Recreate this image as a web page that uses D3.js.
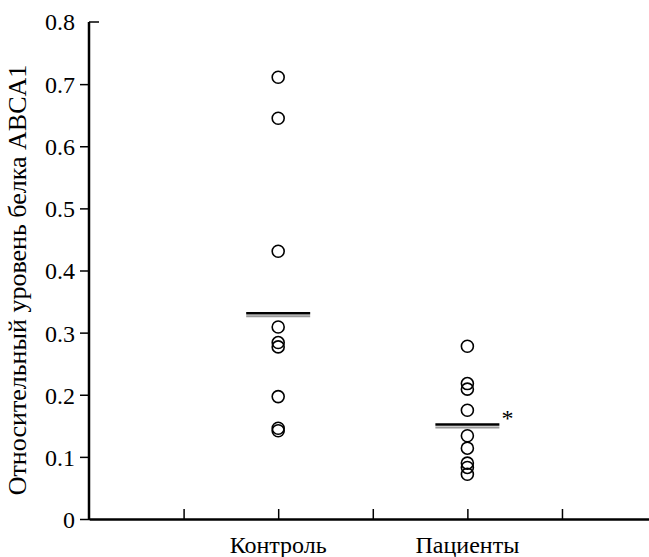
<!DOCTYPE html>
<html><head><meta charset="utf-8">
<script src="https://cdn.jsdelivr.net/npm/d3@7"></script>
<style>body{margin:0;background:#fff}svg{display:block}
.serif{font-family:"Liberation Serif","Times New Roman","DejaVu Serif",serif}</style>
</head><body>
<svg id="c" width="649" height="557"></svg>
<script>
const categories = ["Контроль", "Пациенты"];
const controlValues = [0.711, 0.645, 0.431, 0.309, 0.284, 0.277, 0.197, 0.146, 0.142];
const patientValues = [0.278, 0.218, 0.209, 0.175, 0.134, 0.114, 0.090, 0.083, 0.072];
const groupMeans = [0.331, 0.152];
const yTicks = [0, 0.1, 0.2, 0.3, 0.4, 0.5, 0.6, 0.7, 0.8];
const yTitle = "Относительный уровень белка ABCA1";
const significance = ["", "*"];

const svg = d3.select("#c");
const x = d3.scaleLinear().domain([0, 5.92]).range([89, 649]);
const y = d3.scaleLinear().domain([0, 0.8]).range([519, 22]);
const catPos = [2, 4];
const groups = [controlValues, patientValues];

// y axis
const yAxis = d3.axisLeft(y).tickValues(yTicks.slice(0, -1)).tickSize(9).tickPadding(5)
  .tickFormat(d => d === 0 ? "0" : d3.format(".1f")(d));
const gy = svg.append("g").attr("transform", `translate(${x(0)},0)`).call(yAxis);
gy.attr("font-family", null).attr("font-size", null);
gy.select(".domain").remove();
gy.selectAll(".tick line").attr("stroke", "#000").attr("stroke-width", 1.5);
gy.selectAll(".tick text").attr("class", "serif").style("font-size", "24px").attr("dy", "0.35em").attr("x", -14);
// top label (0.8) with inward tick
svg.append("line").attr("x1", x(0)).attr("x2", x(0) + 10).attr("y1", y(0.8)).attr("y2", y(0.8))
  .attr("stroke", "#000").attr("stroke-width", 1.5);
svg.append("text").attr("class", "serif").attr("x", x(0) - 14).attr("y", y(0.8)).attr("dy", "0.35em")
  .attr("text-anchor", "end").style("font-size", "24px")
  .text(d3.format(".1f")(yTicks[yTicks.length - 1]));
svg.append("line").attr("x1", x(0)).attr("x2", x(0)).attr("y1", y(0.8)).attr("y2", y(0) + 1)
  .attr("stroke", "#000").attr("stroke-width", 2.5);

// x axis
const xAxis = d3.axisBottom(x).tickValues([1, 2, 3, 4, 5]).tickSizeInner(-10).tickSizeOuter(0).tickFormat("");
const gx = svg.append("g").attr("transform", `translate(0,${y(0)})`).call(xAxis);
gx.select(".domain").attr("stroke", "#000").attr("stroke-width", 2.5);
gx.selectAll(".tick line").attr("stroke", "#000").attr("stroke-width", 1.5);

// category labels
svg.selectAll(".cat").data(categories).enter().append("text").attr("class", "serif")
  .attr("x", (d, i) => x(catPos[i])).attr("y", 553).attr("text-anchor", "middle")
  .style("font-size", "24px").text(d => d);

// y title
svg.append("text").attr("class", "serif").attr("transform", `translate(26,280) rotate(-90)`)
  .attr("text-anchor", "middle").style("font-size", "26px").text(yTitle);

// points
groups.forEach((vals, i) => {
  svg.selectAll(".p" + i).data(vals).enter().append("circle")
    .attr("cx", x(catPos[i])).attr("cy", d => y(d)).attr("r", 6)
    .attr("fill", "none").attr("stroke", "#000").attr("stroke-width", 1.6);
});

// mean lines
groupMeans.forEach((m, i) => {
  svg.append("line").attr("x1", x(catPos[i]) - 32).attr("x2", x(catPos[i]) + 32)
    .attr("y1", y(m) + 3).attr("y2", y(m) + 3).attr("stroke", "#999").attr("stroke-width", 2);
  svg.append("line").attr("x1", x(catPos[i]) - 32).attr("x2", x(catPos[i]) + 32)
    .attr("y1", y(m)).attr("y2", y(m)).attr("stroke", "#000").attr("stroke-width", 2.5);
  if (significance[i]) svg.append("text").attr("class", "serif").attr("x", x(catPos[i]) + 34).attr("y", y(m) + 1)
    .style("font-size", "24px").text(significance[i]);
});
</script>
</body></html>
